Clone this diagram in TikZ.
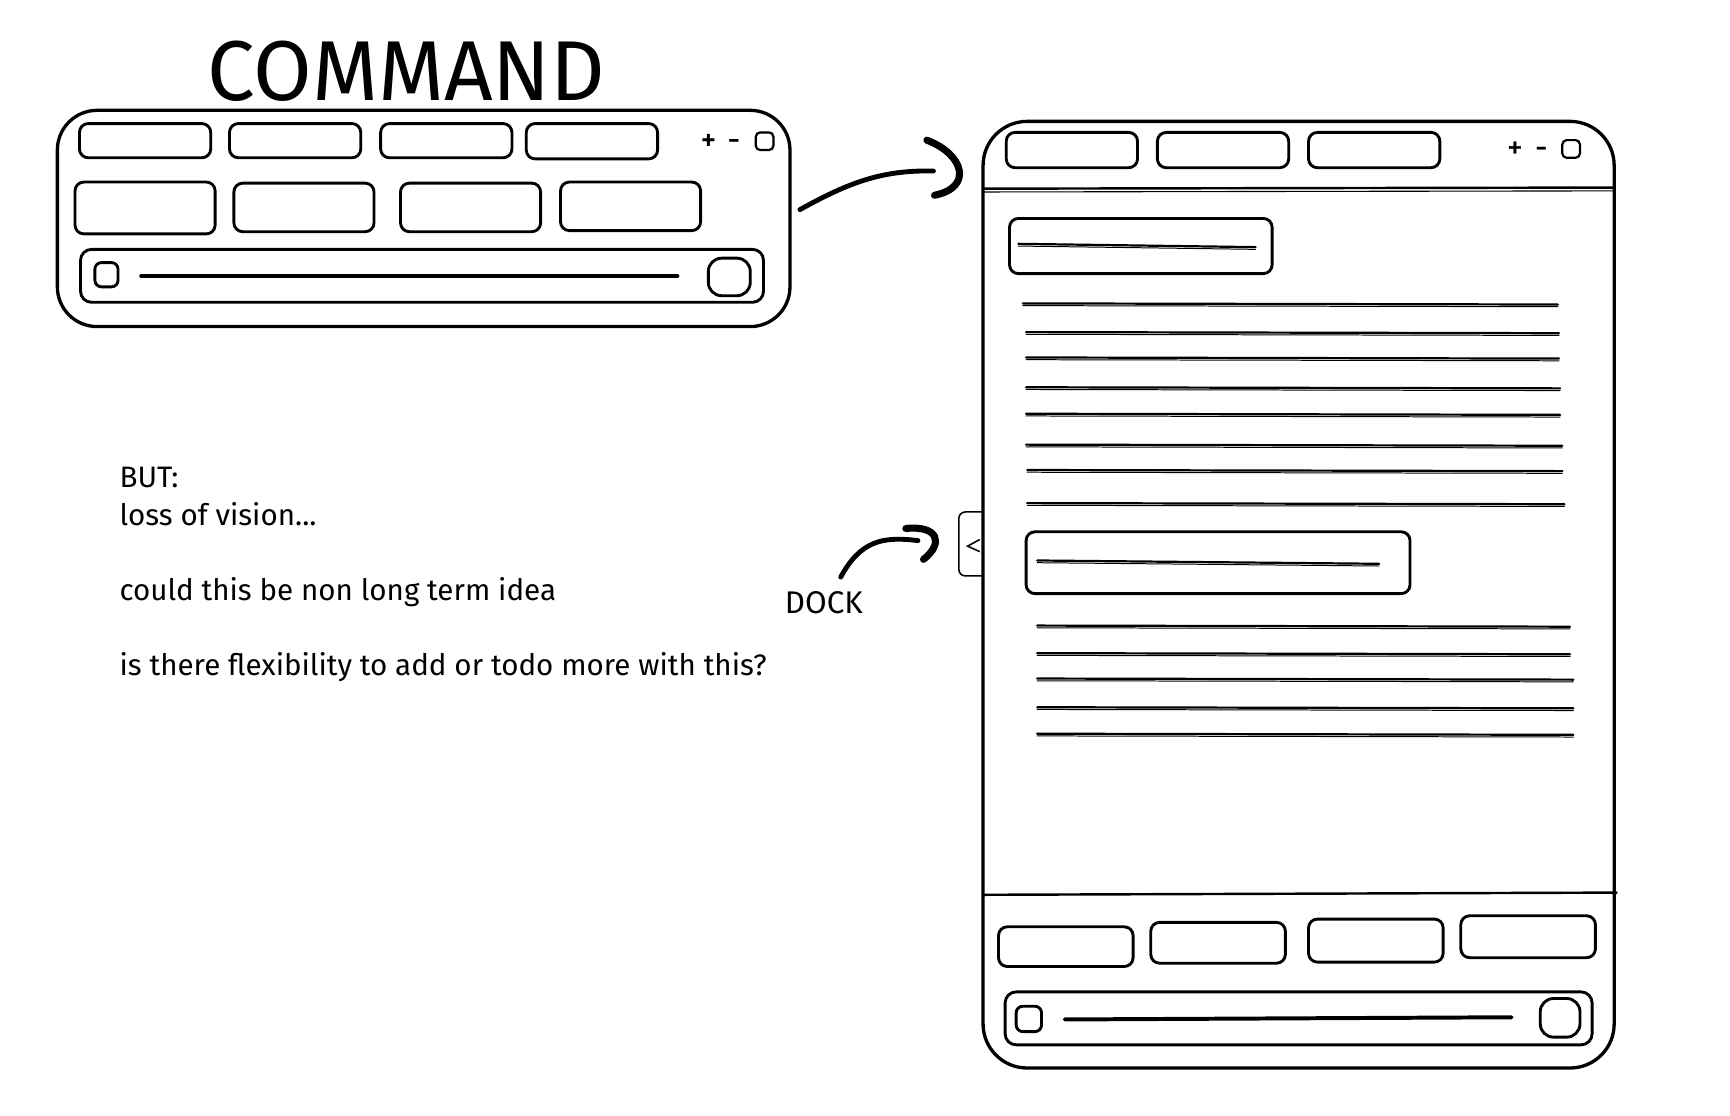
\documentclass[tikz,border=0pt]{standalone}
\usepackage{fontspec}
\setmainfont{Fira Sans}
\begin{document}
\begin{tikzpicture}[x=0.5pt,y=-0.5pt,
  btn/.style={line width=1.3pt, rounded corners=4pt, line join=round},
  panel/.style={line width=1.5pt, rounded corners=18pt},
  bar/.style={line width=1.3pt, rounded corners=5pt},
  rule/.style={line width=1.0pt, line cap=round},
  thinrule/.style={line width=0.45pt, line cap=round},
  barline/.style={line width=1.8pt, line cap=round},
  stroke/.style={line width=2.2pt, line cap=round},
  headstroke/.style={line width=3.2pt, line cap=round},
  txt/.style={font=\fontsize{13.4}{16}\selectfont, anchor=base west, inner sep=0pt},
  ctl/.style={font=\fontsize{14}{14}\selectfont\addfontfeature{FakeBold=1}, anchor=base, inner sep=0pt}]
\useasboundingbox (0,0) rectangle (1568,1011);

% ---------- title ----------
\node[anchor=base west, inner sep=0pt, font=\fontsize{38.5}{42}\selectfont] (title) at (188,91) {COMMAND};

% ---------- left (command) panel ----------
\draw[panel] (52,100) rectangle (716,296);
\coordinate (cmdR) at (725,190);
% top row buttons
\draw[btn] (72,112) rectangle (191,143);
\draw[btn] (208,112) rectangle (327,143);
\draw[btn] (345,112) rectangle (464,143);
\draw[btn] (477,112) rectangle (596,144);
\node[ctl] (lplus) at (642,136) {+};
\node[ctl] (lminus) at (665,136) {-};
\draw[line width=1pt, rounded corners=2pt] (685,120) rectangle (701,136);
% second row
\draw[btn] (68,165) rectangle (195,212);
\draw[btn] (212,166) rectangle (339,210);
\draw[btn] (363,166) rectangle (490,210);
\draw[btn] (508,165) rectangle (635,209);
% bottom bar
\draw[bar] (73,226) rectangle (692,274);
\draw[btn, rounded corners=3pt] (86,238) rectangle (107,260);
\draw[barline] (128,250) -- (614,250);
\draw[btn, rounded corners=6pt] (642,234) rectangle (680,268);

% ---------- arrow 1 ----------
\coordinate (a1e) at (846,155);
\draw[stroke] (cmdR) .. controls (770,165) and (800,154) .. (a1e);
\coordinate (h1a) at (840,127);
\coordinate (h1b) at (847,177);
\draw[headstroke] (h1a) .. controls (874,140) and (882,170) .. (h1b);

% ---------- right panel ----------
\draw[panel, rounded corners=20pt] (891,110) rectangle (1463,968);
\draw[line width=1.1pt] (891,171) -- (1463,170);
\draw[line width=0.5pt] (891,174) -- (1463,173);
\draw[line width=1.1pt] (891,811) -- (1466,809);
% top buttons
\draw[btn] (912,120) rectangle (1031,152);
\draw[btn] (1049,120) rectangle (1168,152);
\draw[btn] (1186,120) rectangle (1305,152);
\node[ctl] (rplus) at (1373,143) {+};
\node[ctl] (rminus) at (1397,143) {-};
\draw[line width=1pt, rounded corners=2pt] (1416,127) rectangle (1432,143);

% heading box 1
\draw[btn] (915,198) rectangle (1153,248);
\draw[rule] (923,221) -- (1138,224);
\draw[thinrule] (923,223) -- (1138,226);
% text lines group 1
\foreach \ya/\xa/\xb in {275/927/1412, 301/930/1413, 324/930/1413, 351/930/1414, 375/930/1414, 403/930/1416, 426/931/1416, 456/931/1418}{
  \draw[rule] (\xa,\ya) -- (\xb,\ya+1);
  \draw[thinrule] (\xa,\ya+2) -- (\xb,\ya+3);
}
% heading box 2
\draw[btn] (930,482) rectangle (1278,538);
\draw[rule] (940,508) -- (1250,511);
\draw[thinrule] (940,510) -- (1250,513);
% text lines group 2
\foreach \ya/\xa/\xb in {567/940/1423, 592/940/1423, 615/940/1426, 641/940/1426, 665/940/1426}{
  \draw[rule] (\xa,\ya) -- (\xb,\ya+1);
  \draw[thinrule] (\xa,\ya+2) -- (\xb,\ya+3);
}

% dock tab
\draw[line width=0.7pt, rounded corners=3pt] (891,464) -- (869,464) -- (869,522) -- (891,522);
\coordinate (tabL) at (847,491);
\draw[line width=0.7pt] (888,489) -- (877,495) -- (888,500);

% bottom buttons
\draw[btn] (905,840) rectangle (1027,876);
\draw[btn] (1043,836) rectangle (1165,873);
\draw[btn] (1186,833) rectangle (1308,872);
\draw[btn] (1324,830) rectangle (1446,868);
% bottom bar
\draw[bar] (911,899) rectangle (1443,947);
\draw[btn, rounded corners=3pt] (921,912) rectangle (944,935);
\draw[barline] (965,924) -- (1370,922);
\draw[btn, rounded corners=6pt] (1396,905) rectangle (1432,940);

% ---------- DOCK label and arrow ----------
\node[txt, font=\fontsize{14.2}{17}\selectfont] (dock) at (711,556) {DOCK};
\coordinate (dockTop) at (762,523);
\coordinate (a2e) at (832,490);
\draw[stroke] (dockTop) .. controls (780,490) and (800,486) .. (a2e);
\coordinate (h2a) at (821,479);
\coordinate (h2b) at (837,507);
\draw[headstroke] (h2a) .. controls (850,476) and (856,492) .. (h2b);

% ---------- notes ----------
\node[txt] (n1) at (108,442) {BUT:};
\node[txt] (n2) at (108,476) {loss of vision...};
\node[txt] (n3) at (108,544) {could this be non long term idea};
\node[txt] (n4) at (108,612) {is there flexibility to add or todo more with this?};
\end{tikzpicture}
\end{document}
